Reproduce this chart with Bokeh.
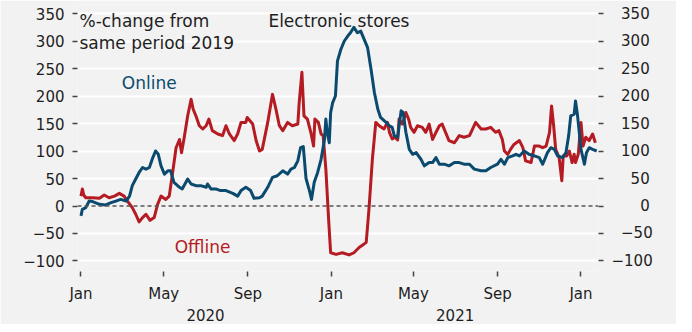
import pandas as pd
from bokeh.plotting import figure
from bokeh.models import FixedTicker, LinearAxis, Span, Label, Range1d
from bokeh.embed import file_html
from bokeh.resources import INLINE

# days since 2020-01-01 and % change vs same period 2019
online_days = [0, 2, 7, 12, 17, 27, 36, 44, 51, 58, 66, 71, 75, 80, 85, 90, 95, 100, 105, 109,
               113, 117, 122, 127, 131, 136, 144, 148, 156, 161, 168, 175, 183, 185, 190, 197,
               204, 212, 222, 229, 234, 241, 248, 253, 261, 265, 273, 280, 287, 295, 302, 307,
               312, 317, 321, 325, 329, 334, 337, 341, 346, 351, 356, 358, 360, 363, 365, 368,
               372, 375, 380, 385, 390, 394, 399, 404, 409, 414, 419, 424, 429, 434, 438, 446,
               451, 455, 458, 463, 468, 471, 475, 480, 485, 490, 497, 502, 509, 514, 519, 524,
               531, 538, 546, 553, 560, 568, 575, 585, 592, 599, 609, 614, 619, 624, 631, 636,
               641, 648, 655, 663, 670, 675, 682, 687, 692, 697, 704, 709, 713, 716, 721, 723,
               726, 731, 736, 739, 743, 748, 754]
online_values = [-18, -6, -3, 9, 8, 3, 2, 6, 9, 12, 9, 18, 37, 49, 61, 70, 67, 70, 88, 100,
                 94, 73, 58, 64, 64, 43, 34, 31, 49, 40, 37, 37, 34, 40, 31, 31,
                 28, 28, 23, 18, 28, 34, 28, 14, 15, 18, 34, 52, 55, 64, 58, 67,
                 70, 82, 106, 108, 50, 28, 12, 43, 61, 85, 121, 158, 134, 115, 170, 188,
                 200, 264, 285, 300, 309, 315, 325, 315, 318, 303, 288, 249, 206, 176, 161, 152,
                 146, 143, 128, 125, 173, 170, 134, 103, 94, 97, 85, 73, 79, 79, 88, 76,
                 76, 73, 79, 79, 76, 76, 67, 64, 64, 70, 76, 85, 76, 88, 91, 94,
                 91, 100, 94, 91, 88, 76, 97, 106, 103, 91, 88, 97, 128, 164, 167, 191,
                 164, 103, 76, 97, 106, 103, 100]

offline_days = [0, 2, 4, 7, 17, 27, 34, 41, 49, 56, 63, 68, 75, 80, 85, 90, 95, 101, 107, 112,
                117, 124, 129, 134, 139, 144, 147, 151, 156, 161, 164, 168, 173, 178, 183, 187,
                192, 200, 207, 212, 217, 224, 229, 234, 241, 243, 251, 256, 261, 265, 273, 280,
                285, 290, 295, 302, 309, 317, 319, 323, 326, 331, 336, 340, 342, 347, 351, 354,
                358, 362, 365, 373, 382, 392, 399, 407, 414, 417, 421, 426, 431, 436, 443, 448,
                451, 455, 459, 463, 465, 470, 475, 479, 482, 487, 492, 499, 504, 509, 514, 519,
                524, 528, 533, 538, 546, 553, 560, 568, 577, 585, 592, 599, 606, 611, 616, 619,
                624, 628, 633, 641, 646, 650, 658, 663, 670, 675, 680, 685, 688, 691, 694, 699,
                703, 705, 710, 714, 718, 721, 723, 727, 731, 734, 738, 743, 748, 752]
offline_values = [18, 31, 20, 15, 15, 14, 20, 15, 18, 23, 18, 9, -3, -15, -29, -21, -15, -26, -21, 3,
                  18, 12, 18, 61, 106, 121, 97, 125, 164, 194, 176, 164, 146, 140, 146, 158,
                  137, 131, 128, 146, 131, 119, 131, 152, 152, 161, 149, 119, 100, 103, 152, 203,
                  176, 146, 137, 152, 146, 149, 188, 243, 164, 158, 134, 109, 158, 152, 131, 128,
                  67, -24, -85, -88, -85, -89, -85, -75, -69, -66, -6, 85, 152, 146, 140, 152,
                  134, 122, 125, 120, 158, 149, 170, 158, 143, 134, 146, 143, 134, 149, 121, 134,
                  146, 149, 134, 119, 115, 128, 125, 128, 152, 140, 140, 143, 134, 137, 121, 100,
                  94, 103, 112, 119, 106, 82, 79, 109, 109, 106, 109, 134, 182, 146, 103, 88,
                  46, 91, 91, 100, 79, 94, 79, 94, 152, 109, 125, 119, 131, 115]

y_ticks = [-100, -50, 0, 50, 100, 150, 200, 250, 300, 350]
month_ticks = ["2020-01-01", "2020-05-01", "2020-09-01", "2021-01-01",
               "2021-05-01", "2021-09-01", "2022-01-01"]
month_labels = ["Jan", "May", "Sep", "Jan", "May", "Sep", "Jan"]
year_ticks = ["2020-07-01", "2021-07-01"]
year_labels = ["2020", "2021"]

origin = pd.Timestamp("2020-01-01")
def to_days(d):
    return float((pd.Timestamp(d) - origin).days)

month_pos = [to_days(d) for d in month_ticks]
year_pos = [to_days(d) for d in year_ticks]

BG = "#f2f2f2"
BLUE = "#0b4a6f"
RED = "#b51b22"
FONT = "DejaVu Sans"
TXT = "#1e1e1e"

p = figure(width=676, height=324, output_backend="svg", toolbar_location=None,
           x_range=Range1d(-5.1, 756.6), y_range=Range1d(-119.1, 366.4),
           min_border_left=77, min_border_right=78, min_border_top=4, min_border_bottom=53,
           background_fill_color=BG, border_fill_color=BG, outline_line_color=None)

p.xgrid.visible = False
p.ygrid.ticker = FixedTicker(ticks=[t for t in y_ticks if t != 0])
p.ygrid.grid_line_color = "white"
p.ygrid.grid_line_width = 2

p.add_layout(Span(location=0, dimension="width", line_color="#555555",
                  line_width=1.5, line_dash="4 3"))

p.line(offline_days, offline_values, line_color=RED, line_width=3, line_join="round")
p.line(online_days, online_values, line_color=BLUE, line_width=3, line_join="round")

def style_y(ax, labels):
    ax.ticker = FixedTicker(ticks=y_ticks)
    ax.major_label_overrides = labels
    ax.axis_line_color = None
    ax.major_tick_in = 0
    ax.major_tick_out = 5
    ax.major_tick_line_color = "#444444"
    ax.major_tick_line_width = 1.5
    ax.minor_tick_line_color = None
    ax.major_label_text_font = FONT
    ax.major_label_text_font_size = "15px"
    ax.major_label_text_color = TXT
    ax.major_label_standoff = 8

def fmt(v):
    return ("\u2212" + str(-v)) if v < 0 else str(v)

left = p.yaxis[0]
style_y(left, {v: fmt(v) for v in y_ticks})

def pad(v):
    s = fmt(v)
    n = 4 - len(s)
    return "\u2007" * n + s

right = LinearAxis()
style_y(right, {v: pad(v) for v in y_ticks})
p.add_layout(right, "right")

bx = p.xaxis[0]
bx.ticker = FixedTicker(ticks=month_pos)
bx.major_label_overrides = dict(zip(month_pos, month_labels))
bx.axis_line_color = None
bx.major_tick_in = 0
bx.major_tick_out = 5
bx.major_tick_line_color = "#444444"
bx.major_tick_line_width = 1.5
bx.minor_tick_line_color = None
bx.major_label_text_font = FONT
bx.major_label_text_font_size = "15px"
bx.major_label_text_color = TXT
bx.major_label_standoff = 8

yx = LinearAxis(ticker=FixedTicker(ticks=year_pos))
yx.major_label_overrides = dict(zip(year_pos, year_labels))
yx.axis_line_color = None
yx.major_tick_line_color = None
yx.minor_tick_line_color = None
yx.major_tick_in = 0
yx.major_tick_out = 0
yx.major_label_text_font = FONT
yx.major_label_text_font_size = "15px"
yx.major_label_text_color = TXT
yx.major_label_standoff = 3
p.add_layout(yx, "below")

def label(x, y, text, color=TXT, size="17px"):
    p.add_layout(Label(x=x, y=y, text=text, text_color=color, text_font=FONT,
                       text_font_size=size, text_baseline="alphabetic", text_align="left"))

label(-2.2, 337, "%-change from")
label(-2.2, 297, "same period 2019")
label(274, 337, "Electronic stores")
label(59.7, 223, "Online", BLUE)
label(137, -74, "Offline", RED)

open("out.html", "w").write(file_html(p, INLINE))
